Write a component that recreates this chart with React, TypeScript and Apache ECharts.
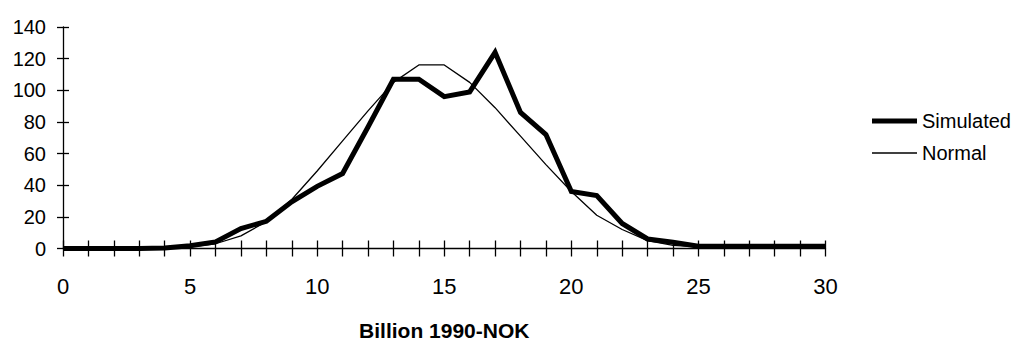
import React, { useEffect, useRef } from "react";
import * as echarts from "echarts";

const xPoints = [0, 1, 2, 3, 4, 5, 6, 7, 8, 9, 10, 11, 12, 13, 14, 15, 16, 17, 18, 19, 20, 21, 22, 23, 24, 25, 26, 27, 28, 29, 30];
const simulated = [0, 0, 0, 0, 0.3, 1.7, 4.2, 12.6, 17.2, 29.5, 39.3, 47.4, 76.8, 107, 107, 96, 99, 124, 86, 72, 36, 33.5, 15.8, 6, 4, 1.5, 1.5, 1.5, 1.5, 1.5, 1.5];
const normal = [0, 0, 0, 0, 0.3, 1, 3, 8, 17, 31, 49, 68, 87, 105, 116, 116, 105, 89, 71, 53, 36, 21, 12, 5, 2, 1, 0.5, 0.3, 0.2, 0.1, 0.1];
const seriesNames = ["Simulated", "Normal"];
const xTitle = "Billion 1990-NOK";

export default function App() {
  const ref = useRef<HTMLDivElement>(null);
  useEffect(() => {
    document.body.style.margin = "0";
    const chart = echarts.init(ref.current!, null, { renderer: "svg" });
    const font = "'Liberation Sans', Arial, Helvetica, sans-serif";
    const tickStyle = { color: "#000", width: 1.3 };
    const xBase: any = { type: "value", min: 0, max: 30, interval: 1, position: "bottom", splitLine: { show: false } };
    const yBase: any = { type: "value", min: 0, max: 140, interval: 20, position: "left", splitLine: { show: false } };
    const legendText = { fontSize: 20, color: "#000", fontFamily: font };
    chart.setOption({
      animation: false,
      backgroundColor: "#fff",
      grid: { left: 63, top: 27, width: 762.5, height: 221.5 },
      xAxis: [
        {
          ...xBase,
          name: xTitle,
          nameLocation: "middle",
          nameGap: 71,
          nameTextStyle: { fontSize: 21, fontWeight: "bold", color: "#000", fontFamily: font },
          axisLine: { show: true, lineStyle: tickStyle },
          axisTick: { show: true, length: 8, lineStyle: tickStyle },
          axisLabel: {
            margin: 27,
            fontSize: 22,
            color: "#000",
            fontFamily: font,
            formatter: (v: number) => (v % 5 === 0 ? String(v) : ""),
          },
        },
        {
          ...xBase,
          axisLine: { show: false },
          axisTick: { show: true, inside: true, length: 8, lineStyle: tickStyle },
          axisLabel: { show: false },
        },
      ],
      yAxis: [
        {
          ...yBase,
          axisLine: { show: true, lineStyle: tickStyle },
          axisTick: { show: true, length: 6, lineStyle: tickStyle },
          axisLabel: { margin: 17, fontSize: 20, color: "#000", fontFamily: font },
        },
        {
          ...yBase,
          axisLine: { show: false },
          axisTick: { show: true, inside: true, length: 6, lineStyle: tickStyle },
          axisLabel: { show: false },
        },
      ],
      legend: [
        {
          orient: "vertical",
          left: 867,
          top: 106,
          icon: "rect",
          itemWidth: 45,
          itemHeight: 5,
          data: [seriesNames[0]],
          textStyle: legendText,
        },
        {
          orient: "vertical",
          left: 867,
          top: 138,
          icon: "rect",
          itemWidth: 45,
          itemHeight: 1.3,
          data: [seriesNames[1]],
          textStyle: legendText,
        },
      ],
      series: [
        {
          name: seriesNames[0],
          type: "line",
          xAxisIndex: 0,
          yAxisIndex: 0,
          data: xPoints.map((x, i) => [x, simulated[i]]),
          symbol: "none",
          clip: false,
          lineStyle: { color: "#000", width: 5, join: "miter" },
          itemStyle: { color: "#000" },
        },
        {
          name: seriesNames[1],
          type: "line",
          xAxisIndex: 0,
          yAxisIndex: 0,
          data: xPoints.map((x, i) => [x, normal[i]]),
          symbol: "none",
          clip: false,
          lineStyle: { color: "#000", width: 1.3 },
          itemStyle: { color: "#000" },
        },
      ],
    });
    return () => chart.dispose();
  }, []);
  return <div ref={ref} style={{ width: 1021, height: 346 }} />;
}
